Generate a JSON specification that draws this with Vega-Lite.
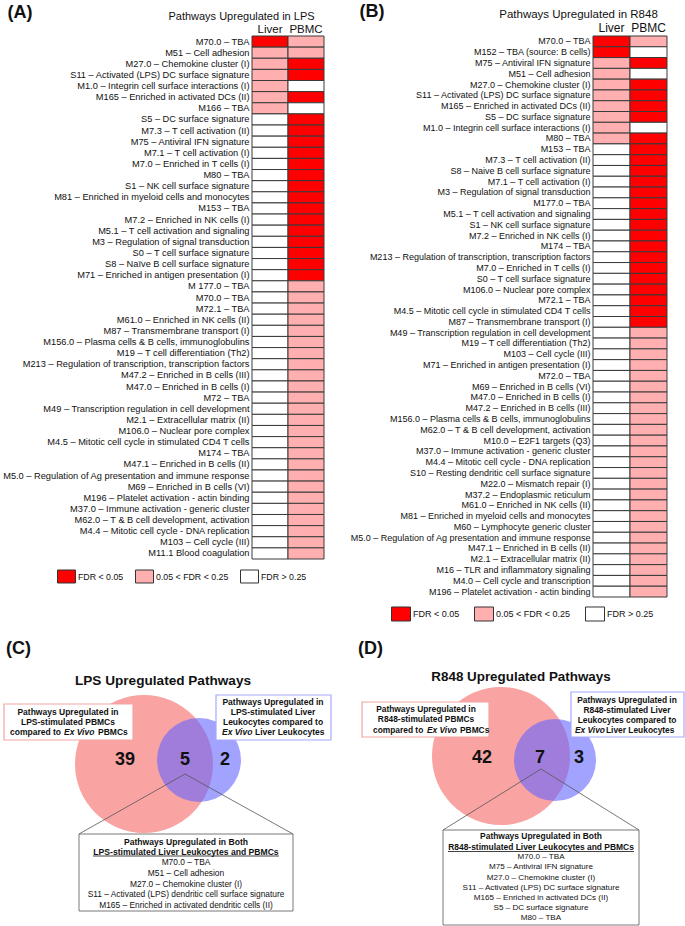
{
"$schema": "https://vega.github.io/schema/vega-lite/v6.json",
"background": "white",
"padding": {"left": 2, "top": 2, "right": 0, "bottom": 0},
"config": {"view": {"stroke": null}, "font": "Liberation Sans", "text": {"color": "#111"}},
"datasets": {
"lps": [
{"pathway": "M70.0 – TBA", "tissue": "Liver", "fdr": "FDR < 0.05"}, {"pathway": "M70.0 – TBA", "tissue": "PBMC", "fdr": "0.05 < FDR < 0.25"},
{"pathway": "M51 – Cell adhesion", "tissue": "Liver", "fdr": "0.05 < FDR < 0.25"}, {"pathway": "M51 – Cell adhesion", "tissue": "PBMC", "fdr": "0.05 < FDR < 0.25"},
{"pathway": "M27.0 – Chemokine cluster (I)", "tissue": "Liver", "fdr": "0.05 < FDR < 0.25"}, {"pathway": "M27.0 – Chemokine cluster (I)", "tissue": "PBMC", "fdr": "FDR < 0.05"},
{"pathway": "S11 – Activated (LPS) DC surface signature", "tissue": "Liver", "fdr": "0.05 < FDR < 0.25"}, {"pathway": "S11 – Activated (LPS) DC surface signature", "tissue": "PBMC", "fdr": "FDR < 0.05"},
{"pathway": "M1.0 – Integrin cell surface interactions (I)", "tissue": "Liver", "fdr": "0.05 < FDR < 0.25"}, {"pathway": "M1.0 – Integrin cell surface interactions (I)", "tissue": "PBMC", "fdr": "FDR > 0.25"},
{"pathway": "M165 – Enriched in activated DCs (II)", "tissue": "Liver", "fdr": "0.05 < FDR < 0.25"}, {"pathway": "M165 – Enriched in activated DCs (II)", "tissue": "PBMC", "fdr": "FDR < 0.05"},
{"pathway": "M166 – TBA", "tissue": "Liver", "fdr": "0.05 < FDR < 0.25"}, {"pathway": "M166 – TBA", "tissue": "PBMC", "fdr": "FDR > 0.25"},
{"pathway": "S5 – DC surface signature", "tissue": "Liver", "fdr": "FDR > 0.25"}, {"pathway": "S5 – DC surface signature", "tissue": "PBMC", "fdr": "FDR < 0.05"},
{"pathway": "M7.3 – T cell activation (II)", "tissue": "Liver", "fdr": "FDR > 0.25"}, {"pathway": "M7.3 – T cell activation (II)", "tissue": "PBMC", "fdr": "FDR < 0.05"},
{"pathway": "M75 – Antiviral IFN signature", "tissue": "Liver", "fdr": "FDR > 0.25"}, {"pathway": "M75 – Antiviral IFN signature", "tissue": "PBMC", "fdr": "FDR < 0.05"},
{"pathway": "M7.1 – T cell activation (I)", "tissue": "Liver", "fdr": "FDR > 0.25"}, {"pathway": "M7.1 – T cell activation (I)", "tissue": "PBMC", "fdr": "FDR < 0.05"},
{"pathway": "M7.0 – Enriched in T cells (I)", "tissue": "Liver", "fdr": "FDR > 0.25"}, {"pathway": "M7.0 – Enriched in T cells (I)", "tissue": "PBMC", "fdr": "FDR < 0.05"},
{"pathway": "M80 – TBA", "tissue": "Liver", "fdr": "FDR > 0.25"}, {"pathway": "M80 – TBA", "tissue": "PBMC", "fdr": "FDR < 0.05"},
{"pathway": "S1 – NK cell surface signature", "tissue": "Liver", "fdr": "FDR > 0.25"}, {"pathway": "S1 – NK cell surface signature", "tissue": "PBMC", "fdr": "FDR < 0.05"},
{"pathway": "M81 – Enriched in myeloid cells and monocytes", "tissue": "Liver", "fdr": "FDR > 0.25"}, {"pathway": "M81 – Enriched in myeloid cells and monocytes", "tissue": "PBMC", "fdr": "FDR < 0.05"},
{"pathway": "M153 – TBA", "tissue": "Liver", "fdr": "FDR > 0.25"}, {"pathway": "M153 – TBA", "tissue": "PBMC", "fdr": "FDR < 0.05"},
{"pathway": "M7.2 – Enriched in NK cells (I)", "tissue": "Liver", "fdr": "FDR > 0.25"}, {"pathway": "M7.2 – Enriched in NK cells (I)", "tissue": "PBMC", "fdr": "FDR < 0.05"},
{"pathway": "M5.1 – T cell activation and signaling", "tissue": "Liver", "fdr": "FDR > 0.25"}, {"pathway": "M5.1 – T cell activation and signaling", "tissue": "PBMC", "fdr": "FDR < 0.05"},
{"pathway": "M3 – Regulation of signal transduction", "tissue": "Liver", "fdr": "FDR > 0.25"}, {"pathway": "M3 – Regulation of signal transduction", "tissue": "PBMC", "fdr": "FDR < 0.05"},
{"pathway": "S0 – T cell surface signature", "tissue": "Liver", "fdr": "FDR > 0.25"}, {"pathway": "S0 – T cell surface signature", "tissue": "PBMC", "fdr": "FDR < 0.05"},
{"pathway": "S8 – Naïve B cell surface signature", "tissue": "Liver", "fdr": "FDR > 0.25"}, {"pathway": "S8 – Naïve B cell surface signature", "tissue": "PBMC", "fdr": "FDR < 0.05"},
{"pathway": "M71 – Enriched in antigen presentation (I)", "tissue": "Liver", "fdr": "FDR > 0.25"}, {"pathway": "M71 – Enriched in antigen presentation (I)", "tissue": "PBMC", "fdr": "FDR < 0.05"},
{"pathway": "M 177.0 – TBA", "tissue": "Liver", "fdr": "FDR > 0.25"}, {"pathway": "M 177.0 – TBA", "tissue": "PBMC", "fdr": "0.05 < FDR < 0.25"},
{"pathway": "M70.0 – TBA\u200b", "tissue": "Liver", "fdr": "FDR > 0.25"}, {"pathway": "M70.0 – TBA\u200b", "tissue": "PBMC", "fdr": "0.05 < FDR < 0.25"},
{"pathway": "M72.1 – TBA", "tissue": "Liver", "fdr": "FDR > 0.25"}, {"pathway": "M72.1 – TBA", "tissue": "PBMC", "fdr": "0.05 < FDR < 0.25"},
{"pathway": "M61.0 – Enriched in NK cells (II)", "tissue": "Liver", "fdr": "FDR > 0.25"}, {"pathway": "M61.0 – Enriched in NK cells (II)", "tissue": "PBMC", "fdr": "0.05 < FDR < 0.25"},
{"pathway": "M87 – Transmembrane transport (I)", "tissue": "Liver", "fdr": "FDR > 0.25"}, {"pathway": "M87 – Transmembrane transport (I)", "tissue": "PBMC", "fdr": "0.05 < FDR < 0.25"},
{"pathway": "M156.0 – Plasma cells & B cells, immunoglobulins", "tissue": "Liver", "fdr": "FDR > 0.25"}, {"pathway": "M156.0 – Plasma cells & B cells, immunoglobulins", "tissue": "PBMC", "fdr": "0.05 < FDR < 0.25"},
{"pathway": "M19 – T cell differentiation (Th2)", "tissue": "Liver", "fdr": "FDR > 0.25"}, {"pathway": "M19 – T cell differentiation (Th2)", "tissue": "PBMC", "fdr": "0.05 < FDR < 0.25"},
{"pathway": "M213 – Regulation of transcription, transcription factors", "tissue": "Liver", "fdr": "FDR > 0.25"}, {"pathway": "M213 – Regulation of transcription, transcription factors", "tissue": "PBMC", "fdr": "0.05 < FDR < 0.25"},
{"pathway": "M47.2 – Enriched in B cells (III)", "tissue": "Liver", "fdr": "FDR > 0.25"}, {"pathway": "M47.2 – Enriched in B cells (III)", "tissue": "PBMC", "fdr": "0.05 < FDR < 0.25"},
{"pathway": "M47.0 – Enriched in B cells (I)", "tissue": "Liver", "fdr": "FDR > 0.25"}, {"pathway": "M47.0 – Enriched in B cells (I)", "tissue": "PBMC", "fdr": "0.05 < FDR < 0.25"},
{"pathway": "M72 – TBA", "tissue": "Liver", "fdr": "FDR > 0.25"}, {"pathway": "M72 – TBA", "tissue": "PBMC", "fdr": "0.05 < FDR < 0.25"},
{"pathway": "M49 – Transcription regulation in cell development", "tissue": "Liver", "fdr": "FDR > 0.25"}, {"pathway": "M49 – Transcription regulation in cell development", "tissue": "PBMC", "fdr": "0.05 < FDR < 0.25"},
{"pathway": "M2.1 – Extracellular matrix (II)", "tissue": "Liver", "fdr": "FDR > 0.25"}, {"pathway": "M2.1 – Extracellular matrix (II)", "tissue": "PBMC", "fdr": "0.05 < FDR < 0.25"},
{"pathway": "M106.0 – Nuclear pore complex", "tissue": "Liver", "fdr": "FDR > 0.25"}, {"pathway": "M106.0 – Nuclear pore complex", "tissue": "PBMC", "fdr": "0.05 < FDR < 0.25"},
{"pathway": "M4.5 – Mitotic cell cycle in stimulated CD4 T cells", "tissue": "Liver", "fdr": "FDR > 0.25"}, {"pathway": "M4.5 – Mitotic cell cycle in stimulated CD4 T cells", "tissue": "PBMC", "fdr": "0.05 < FDR < 0.25"},
{"pathway": "M174 – TBA", "tissue": "Liver", "fdr": "FDR > 0.25"}, {"pathway": "M174 – TBA", "tissue": "PBMC", "fdr": "0.05 < FDR < 0.25"},
{"pathway": "M47.1 – Enriched in B cells (II)", "tissue": "Liver", "fdr": "FDR > 0.25"}, {"pathway": "M47.1 – Enriched in B cells (II)", "tissue": "PBMC", "fdr": "0.05 < FDR < 0.25"},
{"pathway": "M5.0 – Regulation of Ag presentation and immune response", "tissue": "Liver", "fdr": "FDR > 0.25"}, {"pathway": "M5.0 – Regulation of Ag presentation and immune response", "tissue": "PBMC", "fdr": "0.05 < FDR < 0.25"},
{"pathway": "M69 – Enriched in B cells (VI)", "tissue": "Liver", "fdr": "FDR > 0.25"}, {"pathway": "M69 – Enriched in B cells (VI)", "tissue": "PBMC", "fdr": "0.05 < FDR < 0.25"},
{"pathway": "M196 – Platelet activation - actin binding", "tissue": "Liver", "fdr": "FDR > 0.25"}, {"pathway": "M196 – Platelet activation - actin binding", "tissue": "PBMC", "fdr": "0.05 < FDR < 0.25"},
{"pathway": "M37.0 – Immune activation - generic cluster", "tissue": "Liver", "fdr": "FDR > 0.25"}, {"pathway": "M37.0 – Immune activation - generic cluster", "tissue": "PBMC", "fdr": "0.05 < FDR < 0.25"},
{"pathway": "M62.0 – T & B cell development, activation", "tissue": "Liver", "fdr": "FDR > 0.25"}, {"pathway": "M62.0 – T & B cell development, activation", "tissue": "PBMC", "fdr": "0.05 < FDR < 0.25"},
{"pathway": "M4.4 – Mitotic cell cycle - DNA replication", "tissue": "Liver", "fdr": "FDR > 0.25"}, {"pathway": "M4.4 – Mitotic cell cycle - DNA replication", "tissue": "PBMC", "fdr": "0.05 < FDR < 0.25"},
{"pathway": "M103 – Cell cycle (III)", "tissue": "Liver", "fdr": "FDR > 0.25"}, {"pathway": "M103 – Cell cycle (III)", "tissue": "PBMC", "fdr": "0.05 < FDR < 0.25"},
{"pathway": "M11.1 Blood coagulation", "tissue": "Liver", "fdr": "FDR > 0.25"}, {"pathway": "M11.1 Blood coagulation", "tissue": "PBMC", "fdr": "0.05 < FDR < 0.25"}
],
"r848": [
{"pathway": "M70.0 – TBA", "tissue": "Liver", "fdr": "FDR < 0.05"}, {"pathway": "M70.0 – TBA", "tissue": "PBMC", "fdr": "0.05 < FDR < 0.25"},
{"pathway": "M152 – TBA (source: B cells)", "tissue": "Liver", "fdr": "FDR < 0.05"}, {"pathway": "M152 – TBA (source: B cells)", "tissue": "PBMC", "fdr": "FDR > 0.25"},
{"pathway": "M75 – Antiviral IFN signature", "tissue": "Liver", "fdr": "0.05 < FDR < 0.25"}, {"pathway": "M75 – Antiviral IFN signature", "tissue": "PBMC", "fdr": "FDR < 0.05"},
{"pathway": "M51 – Cell adhesion", "tissue": "Liver", "fdr": "0.05 < FDR < 0.25"}, {"pathway": "M51 – Cell adhesion", "tissue": "PBMC", "fdr": "FDR > 0.25"},
{"pathway": "M27.0 – Chemokine cluster (I)", "tissue": "Liver", "fdr": "0.05 < FDR < 0.25"}, {"pathway": "M27.0 – Chemokine cluster (I)", "tissue": "PBMC", "fdr": "FDR < 0.05"},
{"pathway": "S11 – Activated (LPS) DC surface signature", "tissue": "Liver", "fdr": "0.05 < FDR < 0.25"}, {"pathway": "S11 – Activated (LPS) DC surface signature", "tissue": "PBMC", "fdr": "FDR < 0.05"},
{"pathway": "M165 – Enriched in activated DCs (II)", "tissue": "Liver", "fdr": "0.05 < FDR < 0.25"}, {"pathway": "M165 – Enriched in activated DCs (II)", "tissue": "PBMC", "fdr": "FDR < 0.05"},
{"pathway": "S5 – DC surface signature", "tissue": "Liver", "fdr": "0.05 < FDR < 0.25"}, {"pathway": "S5 – DC surface signature", "tissue": "PBMC", "fdr": "FDR < 0.05"},
{"pathway": "M1.0 – Integrin cell surface interactions (I)", "tissue": "Liver", "fdr": "0.05 < FDR < 0.25"}, {"pathway": "M1.0 – Integrin cell surface interactions (I)", "tissue": "PBMC", "fdr": "FDR > 0.25"},
{"pathway": "M80 – TBA", "tissue": "Liver", "fdr": "0.05 < FDR < 0.25"}, {"pathway": "M80 – TBA", "tissue": "PBMC", "fdr": "FDR < 0.05"},
{"pathway": "M153 – TBA", "tissue": "Liver", "fdr": "FDR > 0.25"}, {"pathway": "M153 – TBA", "tissue": "PBMC", "fdr": "FDR < 0.05"},
{"pathway": "M7.3 – T cell activation (II)", "tissue": "Liver", "fdr": "FDR > 0.25"}, {"pathway": "M7.3 – T cell activation (II)", "tissue": "PBMC", "fdr": "FDR < 0.05"},
{"pathway": "S8 – Naive B cell surface signature", "tissue": "Liver", "fdr": "FDR > 0.25"}, {"pathway": "S8 – Naive B cell surface signature", "tissue": "PBMC", "fdr": "FDR < 0.05"},
{"pathway": "M7.1 – T cell activation (I)", "tissue": "Liver", "fdr": "FDR > 0.25"}, {"pathway": "M7.1 – T cell activation (I)", "tissue": "PBMC", "fdr": "FDR < 0.05"},
{"pathway": "M3 – Regulation of signal transduction", "tissue": "Liver", "fdr": "FDR > 0.25"}, {"pathway": "M3 – Regulation of signal transduction", "tissue": "PBMC", "fdr": "FDR < 0.05"},
{"pathway": "M177.0 – TBA", "tissue": "Liver", "fdr": "FDR > 0.25"}, {"pathway": "M177.0 – TBA", "tissue": "PBMC", "fdr": "FDR < 0.05"},
{"pathway": "M5.1 – T cell activation and signaling", "tissue": "Liver", "fdr": "FDR > 0.25"}, {"pathway": "M5.1 – T cell activation and signaling", "tissue": "PBMC", "fdr": "FDR < 0.05"},
{"pathway": "S1 – NK cell surface signature", "tissue": "Liver", "fdr": "FDR > 0.25"}, {"pathway": "S1 – NK cell surface signature", "tissue": "PBMC", "fdr": "FDR < 0.05"},
{"pathway": "M7.2 – Enriched in NK cells (I)", "tissue": "Liver", "fdr": "FDR > 0.25"}, {"pathway": "M7.2 – Enriched in NK cells (I)", "tissue": "PBMC", "fdr": "FDR < 0.05"},
{"pathway": "M174 – TBA", "tissue": "Liver", "fdr": "FDR > 0.25"}, {"pathway": "M174 – TBA", "tissue": "PBMC", "fdr": "FDR < 0.05"},
{"pathway": "M213 – Regulation of transcription, transcription factors", "tissue": "Liver", "fdr": "FDR > 0.25"}, {"pathway": "M213 – Regulation of transcription, transcription factors", "tissue": "PBMC", "fdr": "FDR < 0.05"},
{"pathway": "M7.0 – Enriched in T cells (I)", "tissue": "Liver", "fdr": "FDR > 0.25"}, {"pathway": "M7.0 – Enriched in T cells (I)", "tissue": "PBMC", "fdr": "FDR < 0.05"},
{"pathway": "S0 – T cell surface signature", "tissue": "Liver", "fdr": "FDR > 0.25"}, {"pathway": "S0 – T cell surface signature", "tissue": "PBMC", "fdr": "FDR < 0.05"},
{"pathway": "M106.0 – Nuclear pore complex", "tissue": "Liver", "fdr": "FDR > 0.25"}, {"pathway": "M106.0 – Nuclear pore complex", "tissue": "PBMC", "fdr": "FDR < 0.05"},
{"pathway": "M72.1 – TBA", "tissue": "Liver", "fdr": "FDR > 0.25"}, {"pathway": "M72.1 – TBA", "tissue": "PBMC", "fdr": "FDR < 0.05"},
{"pathway": "M4.5 – Mitotic cell cycle in stimulated CD4 T cells", "tissue": "Liver", "fdr": "FDR > 0.25"}, {"pathway": "M4.5 – Mitotic cell cycle in stimulated CD4 T cells", "tissue": "PBMC", "fdr": "FDR < 0.05"},
{"pathway": "M87 – Transmembrane transport (I)", "tissue": "Liver", "fdr": "FDR > 0.25"}, {"pathway": "M87 – Transmembrane transport (I)", "tissue": "PBMC", "fdr": "FDR < 0.05"},
{"pathway": "M49 – Transcription regulation in cell development", "tissue": "Liver", "fdr": "FDR > 0.25"}, {"pathway": "M49 – Transcription regulation in cell development", "tissue": "PBMC", "fdr": "0.05 < FDR < 0.25"},
{"pathway": "M19 – T cell differentiation (Th2)", "tissue": "Liver", "fdr": "FDR > 0.25"}, {"pathway": "M19 – T cell differentiation (Th2)", "tissue": "PBMC", "fdr": "0.05 < FDR < 0.25"},
{"pathway": "M103 – Cell cycle (III)", "tissue": "Liver", "fdr": "FDR > 0.25"}, {"pathway": "M103 – Cell cycle (III)", "tissue": "PBMC", "fdr": "0.05 < FDR < 0.25"},
{"pathway": "M71 – Enriched in antigen presentation (I)", "tissue": "Liver", "fdr": "FDR > 0.25"}, {"pathway": "M71 – Enriched in antigen presentation (I)", "tissue": "PBMC", "fdr": "0.05 < FDR < 0.25"},
{"pathway": "M72.0 – TBA", "tissue": "Liver", "fdr": "FDR > 0.25"}, {"pathway": "M72.0 – TBA", "tissue": "PBMC", "fdr": "0.05 < FDR < 0.25"},
{"pathway": "M69 – Enriched in B cells (VI)", "tissue": "Liver", "fdr": "FDR > 0.25"}, {"pathway": "M69 – Enriched in B cells (VI)", "tissue": "PBMC", "fdr": "0.05 < FDR < 0.25"},
{"pathway": "M47.0 – Enriched in B cells (I)", "tissue": "Liver", "fdr": "FDR > 0.25"}, {"pathway": "M47.0 – Enriched in B cells (I)", "tissue": "PBMC", "fdr": "0.05 < FDR < 0.25"},
{"pathway": "M47.2 – Enriched in B cells (III)", "tissue": "Liver", "fdr": "FDR > 0.25"}, {"pathway": "M47.2 – Enriched in B cells (III)", "tissue": "PBMC", "fdr": "0.05 < FDR < 0.25"},
{"pathway": "M156.0 – Plasma cells & B cells, immunoglobulins", "tissue": "Liver", "fdr": "FDR > 0.25"}, {"pathway": "M156.0 – Plasma cells & B cells, immunoglobulins", "tissue": "PBMC", "fdr": "0.05 < FDR < 0.25"},
{"pathway": "M62.0 – T & B cell development, activation", "tissue": "Liver", "fdr": "FDR > 0.25"}, {"pathway": "M62.0 – T & B cell development, activation", "tissue": "PBMC", "fdr": "0.05 < FDR < 0.25"},
{"pathway": "M10.0 – E2F1 targets (Q3)", "tissue": "Liver", "fdr": "FDR > 0.25"}, {"pathway": "M10.0 – E2F1 targets (Q3)", "tissue": "PBMC", "fdr": "0.05 < FDR < 0.25"},
{"pathway": "M37.0 – Immune activation - generic cluster", "tissue": "Liver", "fdr": "FDR > 0.25"}, {"pathway": "M37.0 – Immune activation - generic cluster", "tissue": "PBMC", "fdr": "0.05 < FDR < 0.25"},
{"pathway": "M4.4 – Mitotic cell cycle - DNA replication", "tissue": "Liver", "fdr": "FDR > 0.25"}, {"pathway": "M4.4 – Mitotic cell cycle - DNA replication", "tissue": "PBMC", "fdr": "0.05 < FDR < 0.25"},
{"pathway": "S10 – Resting dendritic cell surface signature", "tissue": "Liver", "fdr": "FDR > 0.25"}, {"pathway": "S10 – Resting dendritic cell surface signature", "tissue": "PBMC", "fdr": "0.05 < FDR < 0.25"},
{"pathway": "M22.0 – Mismatch repair (I)", "tissue": "Liver", "fdr": "FDR > 0.25"}, {"pathway": "M22.0 – Mismatch repair (I)", "tissue": "PBMC", "fdr": "0.05 < FDR < 0.25"},
{"pathway": "M37.2 – Endoplasmic reticulum", "tissue": "Liver", "fdr": "FDR > 0.25"}, {"pathway": "M37.2 – Endoplasmic reticulum", "tissue": "PBMC", "fdr": "0.05 < FDR < 0.25"},
{"pathway": "M61.0 – Enriched in NK cells (II)", "tissue": "Liver", "fdr": "FDR > 0.25"}, {"pathway": "M61.0 – Enriched in NK cells (II)", "tissue": "PBMC", "fdr": "0.05 < FDR < 0.25"},
{"pathway": "M81 – Enriched in myeloid cells and monocytes", "tissue": "Liver", "fdr": "FDR > 0.25"}, {"pathway": "M81 – Enriched in myeloid cells and monocytes", "tissue": "PBMC", "fdr": "0.05 < FDR < 0.25"},
{"pathway": "M60 – Lymphocyte generic cluster", "tissue": "Liver", "fdr": "FDR > 0.25"}, {"pathway": "M60 – Lymphocyte generic cluster", "tissue": "PBMC", "fdr": "0.05 < FDR < 0.25"},
{"pathway": "M5.0 – Regulation of Ag presentation and immune response", "tissue": "Liver", "fdr": "FDR > 0.25"}, {"pathway": "M5.0 – Regulation of Ag presentation and immune response", "tissue": "PBMC", "fdr": "0.05 < FDR < 0.25"},
{"pathway": "M47.1 – Enriched in B cells (II)", "tissue": "Liver", "fdr": "FDR > 0.25"}, {"pathway": "M47.1 – Enriched in B cells (II)", "tissue": "PBMC", "fdr": "0.05 < FDR < 0.25"},
{"pathway": "M2.1 – Extracellular matrix (II)", "tissue": "Liver", "fdr": "FDR > 0.25"}, {"pathway": "M2.1 – Extracellular matrix (II)", "tissue": "PBMC", "fdr": "0.05 < FDR < 0.25"},
{"pathway": "M16 – TLR and inflammatory signaling", "tissue": "Liver", "fdr": "FDR > 0.25"}, {"pathway": "M16 – TLR and inflammatory signaling", "tissue": "PBMC", "fdr": "0.05 < FDR < 0.25"},
{"pathway": "M4.0 – Cell cycle and transcription", "tissue": "Liver", "fdr": "FDR > 0.25"}, {"pathway": "M4.0 – Cell cycle and transcription", "tissue": "PBMC", "fdr": "0.05 < FDR < 0.25"},
{"pathway": "M196 – Platelet activation - actin binding", "tissue": "Liver", "fdr": "FDR > 0.25"}, {"pathway": "M196 – Platelet activation - actin binding", "tissue": "PBMC", "fdr": "0.05 < FDR < 0.25"}
]
},
"columns": 1,
"spacing": 8,
"concat": [
{
"hconcat": [
{
"width": 72, "height": 523,
"data": {"name": "lps"},
"mark": {"type": "rect", "stroke": "#3a3a3a", "strokeWidth": 1},
"encoding": {
"x": {"field": "tissue", "type": "nominal", "sort": ["Liver", "PBMC"], "scale": {"paddingInner": 0, "paddingOuter": 0},
"axis": {"orient": "top", "title": "Pathways Upregulated in LPS", "titleFontSize": 11, "titleFontWeight": "normal", "titleX": -11, "titlePadding": 2, "labelAngle": 0, "labelFontSize": 11.5, "labelPadding": 2, "ticks": false, "domain": false, "labelColor": "#111", "titleColor": "#111"}},
"y": {"field": "pathway", "type": "nominal", "sort": null, "scale": {"paddingInner": 0, "paddingOuter": 0},
"axis": {"title": "(A)", "titleAngle": 0, "titleAlign": "left", "titleBaseline": "alphabetic", "titleX": -245, "titleY": -18.5, "titleFontSize": 18, "titleFontWeight": "bold", "labelFontSize": 9.25, "labelLimit": 400, "labelPadding": 3, "ticks": false, "domain": false, "labelColor": "#111", "titleColor": "#111"}},
"color": {"field": "fdr", "type": "nominal", "scale": {"domain": ["FDR < 0.05", "0.05 < FDR < 0.25", "FDR > 0.25"], "range": ["#ff0000", "#ffafaf", "#ffffff"]},
"legend": {"orient": "none", "legendX": -195, "legendY": 531, "direction": "horizontal", "gridAlign": "none", "title": null, "symbolType": "M-1,-0.722H1V0.722H-1Z", "symbolSize": 324, "symbolStrokeColor": "#333", "symbolStrokeWidth": 1, "symbolOpacity": 1, "labelFontSize": 8.8, "labelOffset": 2, "columnPadding": 9, "labelColor": "#111", "padding": 0}}
}
},
{
"width": 74, "height": 561,
"data": {"name": "r848"},
"mark": {"type": "rect", "stroke": "#3a3a3a", "strokeWidth": 1},
"encoding": {
"x": {"field": "tissue", "type": "nominal", "sort": ["Liver", "PBMC"], "scale": {"paddingInner": 0, "paddingOuter": 0},
"axis": {"orient": "top", "title": "Pathways Upregulated in R848", "titleFontSize": 11.5, "titleFontWeight": "normal", "titleX": -15, "titlePadding": 2, "labelAngle": 0, "labelFontSize": 12, "labelPadding": 2, "ticks": false, "domain": false, "labelColor": "#111", "titleColor": "#111"}},
"y": {"field": "pathway", "type": "nominal", "sort": null, "scale": {"paddingInner": 0, "paddingOuter": 0},
"axis": {"title": "(B)", "titleAngle": 0, "titleAlign": "left", "titleBaseline": "alphabetic", "titleX": -234, "titleY": -19.5, "titleFontSize": 18, "titleFontWeight": "bold", "labelFontSize": 9.0, "labelLimit": 400, "labelPadding": 3, "ticks": false, "domain": false, "labelColor": "#111", "titleColor": "#111"}},
"color": {"field": "fdr", "type": "nominal", "scale": {"domain": ["FDR < 0.05", "0.05 < FDR < 0.25", "FDR > 0.25"], "range": ["#ff0000", "#ffafaf", "#ffffff"]},
"legend": {"orient": "none", "legendX": -202, "legendY": 568, "direction": "horizontal", "gridAlign": "none", "title": null, "symbolType": "M-1,-0.737H1V0.737H-1Z", "symbolSize": 361, "symbolStrokeColor": "#333", "symbolStrokeWidth": 1, "symbolOpacity": 1, "labelFontSize": 9, "labelOffset": 2, "columnPadding": 12, "labelColor": "#111", "padding": 0}}
}
}
],
"spacing": 24,
"resolve": {"scale": {"color": "independent"}, "legend": {"color": "independent"}}
},
{
"hconcat": [
{
"width": 89, "height": 296,
"encoding": {
"x": {"field": "x", "type": "quantitative", "scale": {"domain": [251, 340], "nice": false, "zero": false}, "axis": null},
"y": {"field": "y", "type": "quantitative", "scale": {"domain": [0, 296], "nice": false, "zero": false, "reverse": true}, "axis": null}
},
"layer": [
{"data": {"values": [{"set": "LPS-stimulated PBMCs", "x": 143, "y": 132, "r": 69}]},
 "mark": {"type": "point", "shape": "circle", "filled": true, "color": "#f9a3a3", "opacity": 1, "strokeWidth": 0},
 "encoding": {"size": {"field": "r", "type": "quantitative", "scale": {"type": "pow", "exponent": 2, "domain": [0, 100], "range": [0, 40000]}, "legend": null}}},
{"data": {"values": [{"set": "LPS-stimulated Liver Leukocytes", "x": 198, "y": 128, "r": 42}]},
 "mark": {"type": "point", "shape": "circle", "filled": true, "color": "#6464ff", "opacity": 0.6, "strokeWidth": 0},
 "encoding": {"size": {"field": "r", "type": "quantitative", "scale": {"type": "pow", "exponent": 2, "domain": [0, 100], "range": [0, 40000]}, "legend": null}}},
{"data": {"values": [{"box": "PBMC label", "x": 3, "x2": 132, "y": 72, "y2": 108}]},
 "mark": {"type": "rect", "fill": "white", "stroke": "#f4a4a4", "strokeWidth": 1.2},
 "encoding": {"x2": {"field": "x2"}, "y2": {"field": "y2"}}},
{"data": {"values": [{"box": "Liver label", "x": 215, "x2": 330, "y": 63, "y2": 108}]},
 "mark": {"type": "rect", "fill": "white", "stroke": "#a8a8ff", "strokeWidth": 1.2},
 "encoding": {"x2": {"field": "x2"}, "y2": {"field": "y2"}}},
{"data": {"values": [{"x": 78, "y": 202, "o": 1}, {"x": 184, "y": 142, "o": 2}, {"x": 292, "y": 202, "o": 3}]},
 "mark": {"type": "line", "stroke": "#555", "strokeWidth": 0.8},
 "encoding": {"order": {"field": "o", "type": "quantitative"}}},
{"data": {"values": [{"box": "Both", "x": 78, "x2": 292, "y": 202, "y2": 279}]},
 "mark": {"type": "rect", "fill": "white", "stroke": "#555", "strokeWidth": 0.8},
 "encoding": {"x2": {"field": "x2"}, "y2": {"field": "y2"}}},
{"data": {"values": [{"x": 92, "x2": 278, "y": 224}]},
 "mark": {"type": "rule", "stroke": "#111", "strokeWidth": 0.8},
 "encoding": {"x2": {"field": "x2"}}},
{"data": {"values": [{"label": "(C)", "x": 5, "y": 22}]},
 "mark": {"type": "text", "align": "left", "baseline": "alphabetic", "fontSize": 18, "fontWeight": "bold"},
 "encoding": {"text": {"field": "label"}}},
{"data": {"values": [{"label": "LPS Upregulated Pathways", "x": 162, "y": 49}]},
 "mark": {"type": "text", "align": "center", "baseline": "middle", "fontSize": 13.6, "fontWeight": "bold"},
 "encoding": {"text": {"field": "label"}}},
{"data": {"values": [{"label": "39", "x": 124, "y": 128}, {"label": "5", "x": 184, "y": 128}, {"label": "2", "x": 224, "y": 128}]},
 "mark": {"type": "text", "align": "center", "baseline": "middle", "fontSize": 18, "fontWeight": "bold"},
 "encoding": {"text": {"field": "label"}}},
{"data": {"values": [{"label": "Pathways Upregulated in", "x": 67, "y": 80}, {"label": "LPS-stimulated PBMCs", "x": 67, "y": 90}, {"label": "Pathways Upregulated in", "x": 272, "y": 70}, {"label": "LPS-stimulated Liver", "x": 272, "y": 80}, {"label": "Leukocytes compared to", "x": 272, "y": 90}]},
 "mark": {"type": "text", "align": "center", "baseline": "middle", "fontSize": 8.5, "fontWeight": "bold"},
 "encoding": {"text": {"field": "label"}}},
{"data": {"values": [{"label": "compared to", "x": 9, "y": 100}, {"label": "PBMCs", "x": 97, "y": 100}, {"label": "Liver Leukocytes", "x": 254, "y": 100}]},
 "mark": {"type": "text", "align": "left", "baseline": "middle", "fontSize": 8.5, "fontWeight": "bold"},
 "encoding": {"text": {"field": "label"}}},
{"data": {"values": [{"label": "Ex Vivo", "x": 63, "y": 100}, {"label": "Ex Vivo", "x": 221, "y": 100}]},
 "mark": {"type": "text", "align": "left", "baseline": "middle", "fontSize": 8.5, "fontWeight": "bold", "fontStyle": "italic"},
 "encoding": {"text": {"field": "label"}}},
{"data": {"values": [{"label": "Pathways Upregulated in Both", "x": 185, "y": 210}, {"label": "LPS-stimulated Liver Leukocytes and PBMCs", "x": 185, "y": 220}]},
 "mark": {"type": "text", "align": "center", "baseline": "middle", "fontSize": 8.6, "fontWeight": "bold"},
 "encoding": {"text": {"field": "label"}}},
{"data": {"values": [{"label": "M70.0 – TBA", "x": 185, "y": 230}, {"label": "M51 – Cell adhesion", "x": 185, "y": 241}, {"label": "M27.0 – Chemokine cluster (I)", "x": 185, "y": 252}, {"label": "S11 – Activated (LPS) dendritic cell surface signature", "x": 185, "y": 262}, {"label": "M165 – Enriched in activated dendritic cells (II)", "x": 185, "y": 273}]},
 "mark": {"type": "text", "align": "center", "baseline": "middle", "fontSize": 8.4},
 "encoding": {"text": {"field": "label"}}}
]
},
{
"width": 345, "height": 296,
"encoding": {
"x": {"field": "x", "type": "quantitative", "scale": {"domain": [0, 345], "nice": false, "zero": false}, "axis": null},
"y": {"field": "y", "type": "quantitative", "scale": {"domain": [0, 296], "nice": false, "zero": false, "reverse": true}, "axis": null}
},
"layer": [
{"data": {"values": [{"set": "R848-stimulated PBMCs", "x": 160, "y": 124, "r": 69}]},
 "mark": {"type": "point", "shape": "circle", "filled": true, "color": "#f9a3a3", "opacity": 1, "strokeWidth": 0},
 "encoding": {"size": {"field": "r", "type": "quantitative", "scale": {"type": "pow", "exponent": 2, "domain": [0, 100], "range": [0, 40000]}, "legend": null}}},
{"data": {"values": [{"set": "R848-stimulated Liver Leukocytes", "x": 214, "y": 128, "r": 41}]},
 "mark": {"type": "point", "shape": "circle", "filled": true, "color": "#6464ff", "opacity": 0.6, "strokeWidth": 0},
 "encoding": {"size": {"field": "r", "type": "quantitative", "scale": {"type": "pow", "exponent": 2, "domain": [0, 100], "range": [0, 40000]}, "legend": null}}},
{"data": {"values": [{"box": "PBMC label", "x": 21, "x2": 148, "y": 70, "y2": 105}]},
 "mark": {"type": "rect", "fill": "white", "stroke": "#f4a4a4", "strokeWidth": 1.2},
 "encoding": {"x2": {"field": "x2"}, "y2": {"field": "y2"}}},
{"data": {"values": [{"box": "Liver label", "x": 230, "x2": 343, "y": 60, "y2": 105}]},
 "mark": {"type": "rect", "fill": "white", "stroke": "#a8a8ff", "strokeWidth": 1.2},
 "encoding": {"x2": {"field": "x2"}, "y2": {"field": "y2"}}},
{"data": {"values": [{"x": 102, "y": 198, "o": 1}, {"x": 200, "y": 137, "o": 2}, {"x": 298, "y": 198, "o": 3}]},
 "mark": {"type": "line", "stroke": "#555", "strokeWidth": 0.8},
 "encoding": {"order": {"field": "o", "type": "quantitative"}}},
{"data": {"values": [{"box": "Both", "x": 102, "x2": 298, "y": 198, "y2": 293}]},
 "mark": {"type": "rect", "fill": "white", "stroke": "#555", "strokeWidth": 0.8},
 "encoding": {"x2": {"field": "x2"}, "y2": {"field": "y2"}}},
{"data": {"values": [{"x": 107, "x2": 293, "y": 219.5}]},
 "mark": {"type": "rule", "stroke": "#111", "strokeWidth": 0.8},
 "encoding": {"x2": {"field": "x2"}}},
{"data": {"values": [{"label": "(D)", "x": 17, "y": 22}]},
 "mark": {"type": "text", "align": "left", "baseline": "alphabetic", "fontSize": 18, "fontWeight": "bold"},
 "encoding": {"text": {"field": "label"}}},
{"data": {"values": [{"label": "R848 Upregulated Pathways", "x": 180, "y": 45}]},
 "mark": {"type": "text", "align": "center", "baseline": "middle", "fontSize": 13.4, "fontWeight": "bold"},
 "encoding": {"text": {"field": "label"}}},
{"data": {"values": [{"label": "42", "x": 141, "y": 126}, {"label": "7", "x": 199, "y": 126}, {"label": "3", "x": 238, "y": 126}]},
 "mark": {"type": "text", "align": "center", "baseline": "middle", "fontSize": 18, "fontWeight": "bold"},
 "encoding": {"text": {"field": "label"}}},
{"data": {"values": [{"label": "Pathways Upregulated in", "x": 85, "y": 77}, {"label": "R848-stimulated PBMCs", "x": 85, "y": 87}, {"label": "Pathways Upregulated in", "x": 286, "y": 68}, {"label": "R848-stimulated Liver", "x": 286, "y": 78}, {"label": "Leukocytes compared to", "x": 286, "y": 88}]},
 "mark": {"type": "text", "align": "center", "baseline": "middle", "fontSize": 8.4, "fontWeight": "bold"},
 "encoding": {"text": {"field": "label"}}},
{"data": {"values": [{"label": "compared to", "x": 32, "y": 98}, {"label": "PBMCs", "x": 119, "y": 98}, {"label": "Liver Leukocytes", "x": 265, "y": 98}]},
 "mark": {"type": "text", "align": "left", "baseline": "middle", "fontSize": 8.4, "fontWeight": "bold"},
 "encoding": {"text": {"field": "label"}}},
{"data": {"values": [{"label": "Ex Vivo", "x": 86, "y": 98}, {"label": "Ex Vivo", "x": 234, "y": 98}]},
 "mark": {"type": "text", "align": "left", "baseline": "middle", "fontSize": 8.4, "fontWeight": "bold", "fontStyle": "italic"},
 "encoding": {"text": {"field": "label"}}},
{"data": {"values": [{"label": "Pathways Upregulated in Both", "x": 200, "y": 204}, {"label": "R848-stimulated Liver Leukocytes and PBMCs", "x": 200, "y": 214.5}]},
 "mark": {"type": "text", "align": "center", "baseline": "middle", "fontSize": 8.45, "fontWeight": "bold"},
 "encoding": {"text": {"field": "label"}}},
{"data": {"values": [{"label": "M70.0 – TBA", "x": 200, "y": 224.5}, {"label": "M75 – Antiviral IFN signature", "x": 200, "y": 235}, {"label": "M27.0 – Chemokine cluster (I)", "x": 200, "y": 246}, {"label": "S11 – Activated (LPS) DC surface signature", "x": 200, "y": 256}, {"label": "M165 – Enriched in activated DCs (II)", "x": 200, "y": 266}, {"label": "S5 – DC surface signature", "x": 200, "y": 276}, {"label": "M80 – TBA", "x": 200, "y": 286}]},
 "mark": {"type": "text", "align": "center", "baseline": "middle", "fontSize": 8.1},
 "encoding": {"text": {"field": "label"}}}
]
}
],
"spacing": 0
}
]
}
